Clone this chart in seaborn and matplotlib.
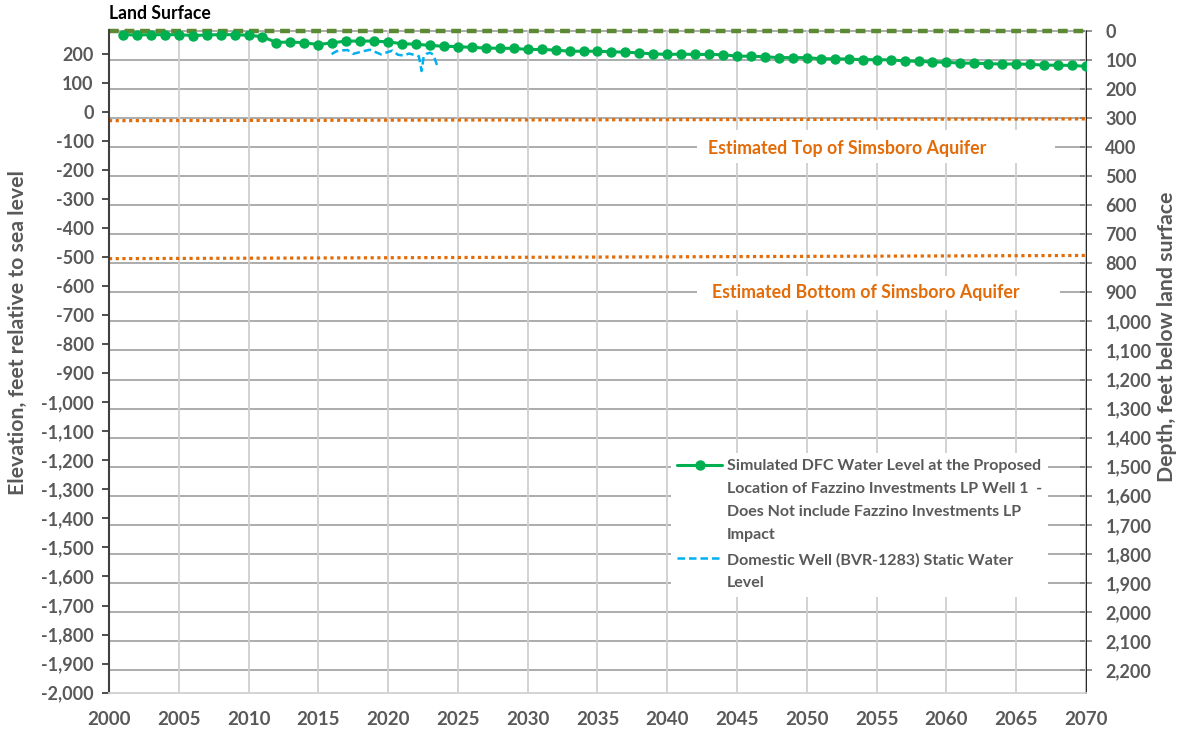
import matplotlib
matplotlib.use("Agg")
import matplotlib.pyplot as plt
import seaborn as sns
from matplotlib.patches import Rectangle
from matplotlib.ticker import FuncFormatter

# simulated DFC water level (elevation, ft), one point per year
years = list(range(2001, 2071))
dfc_level = [265, 264, 265, 265, 265, 262, 264, 265, 265, 263,
             258, 238, 240, 237, 231, 237, 243, 243, 243, 240,
             234, 232, 228, 225, 224, 221, 219, 218, 218, 214,
             214, 212, 208, 208, 208, 206, 205, 202, 199, 197,
             198, 197, 197, 196, 191, 191, 189, 186, 186, 186,
             182, 182, 181, 179, 179, 178, 175, 173, 171, 170,
             167, 167, 165, 164, 164, 163, 160, 160, 159, 156]

# domestic well static water level measurements
well_years = [2015.95, 2016.3, 2016.7, 2017.1, 2017.5, 2017.9, 2018.3,
              2018.7, 2019.1, 2019.5, 2019.9, 2020.3, 2020.7, 2021.1,
              2021.5, 2021.9, 2022.2, 2022.4, 2022.55, 2022.75, 2023.0,
              2023.25, 2023.5]
well_level = [198, 208, 211, 212, 199, 204, 209, 213, 205, 197, 204, 210,
              196, 193, 200, 195, 191, 140, 190, 199, 203, 196, 160]

line_years = [2000, 2070]
land_surface = [278, 278]
simsboro_top = [-31, -25]
simsboro_bottom = [-506, -495]

elev_ticks = list(range(-2000, 201, 100))
depth_ticks = list(range(0, 2201, 100))
year_ticks = list(range(2000, 2071, 5))

label_dfc = ("Simulated DFC Water Level at the Proposed\n"
             "Location of Fazzino Investments LP Well 1  -\n"
             "Does Not include Fazzino Investments LP\n"
             "Impact")
label_well = "Domestic Well (BVR-1283) Static Water\nLevel"

sns.set_theme(style="white")
plt.rcParams["font.family"] = ["Lato", "DejaVu Sans"]

grey = "#595959"
orange = "#E36C09"
top_elev = 281

fig = plt.figure(figsize=(11.83, 7.34), dpi=100)
ax = fig.add_axes([0.0921, 0.0563, 0.8259, 0.9028])
ax2 = ax.twinx()
ax.set_zorder(ax2.get_zorder() + 1)
ax.patch.set_visible(False)
ax2.patch.set_facecolor("white")

# data
sns.lineplot(x=line_years, y=land_surface, ax=ax, color="#5B8A32",
             linewidth=3.2, linestyle=(0, (2.2, 1.3)), clip_on=False)
sns.lineplot(x=line_years, y=simsboro_top, ax=ax, color=orange,
             linewidth=2.3, linestyle=(0, (1, 1.1)))
sns.lineplot(x=line_years, y=simsboro_bottom, ax=ax, color=orange,
             linewidth=2.3, linestyle=(0, (1, 1.1)))
sns.lineplot(x=years, y=dfc_level, ax=ax, color="#00B050", linewidth=2.2,
             marker="o", markersize=7.5, markeredgewidth=0, label=label_dfc)
sns.lineplot(x=well_years, y=well_level, ax=ax, color="#00B0F0",
             linewidth=1.8, linestyle=(0, (3, 1.6)), sort=False,
             label=label_well)

# left axis: elevation
ax.set_xlim(2000, 2070)
ax.set_ylim(-2000, top_elev)
ax.set_xticks(year_ticks)
ax.set_yticks(elev_ticks)
ax.yaxis.set_major_formatter(FuncFormatter(lambda v, p: f"{v:,.0f}"))
ax.grid(axis="x", color="#cfcfcf", linewidth=1.3)
ax.grid(axis="y", visible=False)
ax.tick_params(axis="x", length=0, pad=13, labelsize=13.5, labelcolor=grey)
ax.tick_params(axis="y", left=True, length=5, width=1.3, color="#404040",
               pad=6, labelsize=13, labelcolor=grey)
for t in ax.get_xticklabels() + ax.get_yticklabels():
    t.set_fontweight("bold")
for s in ["top", "right"]:
    ax.spines[s].set_visible(False)
ax.spines["left"].set_color("#404040")
ax.spines["left"].set_linewidth(1.5)
ax.spines["bottom"].set_color("#d0d0d0")
ax.spines["bottom"].set_linewidth(1.3)

# right axis: depth below land surface
ax2.set_ylim(land_surface[0] + 2000, land_surface[0] - top_elev)
ax2.set_yticks(depth_ticks)
ax2.yaxis.set_major_formatter(FuncFormatter(lambda v, p: f"{v:,.0f}"))
ax2.grid(axis="y", color="#a6a6a6", linewidth=1.3)
ax2.tick_params(axis="y", right=True, direction="inout", length=9, width=1.2,
                color="#7f7f7f", pad=9.5, labelsize=13, labelcolor=grey)
for t in ax2.get_yticklabels():
    t.set_fontweight("bold")
for s in ["top", "left", "bottom"]:
    ax2.spines[s].set_visible(False)
ax2.spines["right"].set_color("black")
ax2.spines["right"].set_linestyle((0, (1, 1)))
ax2.spines["right"].set_linewidth(1.2)

ax.set_ylabel("Elevation, feet relative to sea level", fontsize=15.3,
              fontweight="bold", color=grey)
ax.yaxis.set_label_coords(-0.083, 0.543)
ax2.set_ylabel("Depth, feet below land surface", fontsize=15.3,
               fontweight="bold", color=grey, rotation=90)
ax2.yaxis.set_label_coords(1.0725, 0.537)
ax.set_xlabel("")

fig.text(0.0921, 0.981, "Land Surface", fontsize=12.7, fontweight="bold",
         color="black", va="center", ha="left")

# white boxes behind the aquifer labels
ax.add_patch(Rectangle((0.602, 0.799), 0.366, 0.050, transform=ax.transAxes,
                       facecolor="white", edgecolor="none", zorder=1))
ax.add_patch(Rectangle((0.602, 0.5775), 0.371, 0.0515, transform=ax.transAxes,
                       facecolor="white", edgecolor="none", zorder=1))
ax.text(2052.9, -127, "Estimated Top of Simsboro Aquifer", ha="center",
        va="center", color=orange, fontsize=12.8, fontweight="bold", zorder=6)
ax.text(2054.2, -623, "Estimated Bottom of Simsboro Aquifer", ha="center",
        va="center", color=orange, fontsize=12.8, fontweight="bold", zorder=6)

leg = ax.legend(loc="upper left", bbox_to_anchor=(0.575, 0.362),
                borderaxespad=0, frameon=True, facecolor="white",
                edgecolor="none", framealpha=1, fancybox=False,
                prop={"weight": "bold", "size": 11.5}, labelcolor=grey,
                handlelength=2.8, handletextpad=0.3, labelspacing=0.65,
                borderpad=0.4)
leg.set_zorder(7)
for t in leg.get_texts():
    t.set_linespacing(1.82)
for col in leg._legend_handle_box.get_children():
    for row in col.get_children():
        row.align = "top"

fig.savefig("out.png", dpi=100)
